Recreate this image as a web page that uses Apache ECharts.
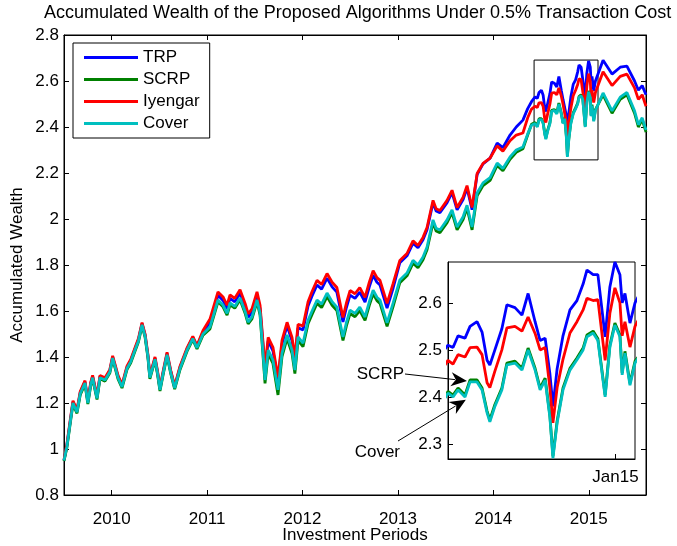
<!DOCTYPE html>
<html>
<head>
<meta charset="utf-8">
<script src="https://cdn.jsdelivr.net/npm/echarts@6/dist/echarts.min.js"></script>
<style>
html, body { margin: 0; padding: 0; background: #fff; }
#chart { width: 677px; height: 546px; }
</style>
</head>
<body>
<div id="chart"></div>
<script>
// decimal years
const periods = [
  2009.50, 2009.53, 2009.56, 2009.594, 2009.636, 2009.67, 2009.72, 2009.75, 2009.78, 2009.80,
  2009.846, 2009.877, 2009.93, 2009.98, 2010.01, 2010.04, 2010.066, 2010.108, 2010.16, 2010.20,
  2010.244, 2010.28, 2010.318, 2010.35, 2010.38, 2010.40, 2010.454, 2010.48, 2010.506, 2010.54,
  2010.58, 2010.62, 2010.66, 2010.716, 2010.79, 2010.85, 2010.894, 2010.957,
  2011.03, 2011.08, 2011.114, 2011.167, 2011.209, 2011.24, 2011.29, 2011.345, 2011.40, 2011.43, 2011.47, 2011.523, 2011.555,
  2011.607, 2011.64, 2011.69, 2011.743, 2011.785, 2011.838, 2011.89, 2011.92, 2011.953,
  2012.005, 2012.058, 2012.10, 2012.152, 2012.20, 2012.257, 2012.31, 2012.36, 2012.424, 2012.46,
  2012.498, 2012.55, 2012.60, 2012.655, 2012.70, 2012.74, 2012.78, 2012.812, 2012.886, 2012.95,
  2013.02, 2013.095, 2013.158, 2013.21, 2013.263, 2013.305, 2013.368, 2013.40, 2013.44, 2013.515,
  2013.567, 2013.62, 2013.683, 2013.724, 2013.777, 2013.83, 2013.892, 2013.966,
  2014.04, 2014.10, 2014.175, 2014.24, 2014.31, 2014.36,
  2014.400, 2014.418, 2014.436, 2014.461, 2014.479, 2014.504, 2014.522, 2014.540, 2014.550, 2014.568,
  2014.593, 2014.611, 2014.640, 2014.665, 2014.687, 2014.712, 2014.730, 2014.748, 2014.765, 2014.776,
  2014.791, 2014.812, 2014.837, 2014.862, 2014.884, 2014.898, 2014.920, 2014.937, 2014.963, 2014.980,
  2014.998, 2015.016, 2015.024, 2015.034, 2015.052, 2015.070,
  2015.15, 2015.244, 2015.33, 2015.40, 2015.48, 2015.52, 2015.56, 2015.60
];

const trp = [
  0.951, 1.015, 1.105, 1.205, 1.165, 1.245, 1.292, 1.205, 1.285, 1.315,
  1.225, 1.315, 1.305, 1.340, 1.400, 1.355, 1.315, 1.275, 1.355, 1.385,
  1.435, 1.475, 1.545, 1.495, 1.405, 1.315, 1.395, 1.335, 1.262, 1.335,
  1.415, 1.335, 1.270, 1.355, 1.435, 1.485, 1.445, 1.508,
  1.550, 1.620, 1.668, 1.646, 1.610, 1.655, 1.640, 1.677, 1.616, 1.572, 1.594, 1.668, 1.610,
  1.340, 1.470, 1.427, 1.297, 1.457, 1.536, 1.470, 1.383, 1.527,
  1.518, 1.622, 1.665, 1.713, 1.695, 1.743, 1.705, 1.682, 1.552, 1.615,
  1.669, 1.655, 1.682, 1.639, 1.705, 1.755, 1.725, 1.713, 1.613, 1.700,
  1.810, 1.840, 1.895, 1.875, 1.910, 1.953, 2.071, 2.035, 2.027, 2.071,
  2.115, 2.040, 2.085, 2.135, 2.040, 2.193, 2.240, 2.265,
  2.330, 2.310, 2.365, 2.400, 2.430, 2.480,
  2.510, 2.505, 2.530, 2.525, 2.550, 2.560, 2.538, 2.478, 2.468, 2.500,
  2.545, 2.596, 2.590, 2.574, 2.620, 2.560, 2.520, 2.525, 2.450, 2.380,
  2.460, 2.530, 2.585, 2.605, 2.640, 2.670, 2.660, 2.660, 2.528, 2.634,
  2.687, 2.660, 2.600, 2.620, 2.557, 2.600,
  2.690, 2.630, 2.660, 2.665, 2.600, 2.560, 2.580, 2.540
];

const scrp = [
  0.948, 1.005, 1.095, 1.195, 1.155, 1.235, 1.282, 1.195, 1.275, 1.305,
  1.215, 1.305, 1.295, 1.330, 1.390, 1.345, 1.305, 1.265, 1.345, 1.375,
  1.425, 1.465, 1.535, 1.485, 1.395, 1.305, 1.385, 1.325, 1.252, 1.325,
  1.405, 1.325, 1.260, 1.345, 1.425, 1.475, 1.435, 1.495,
  1.522, 1.592, 1.640, 1.618, 1.582, 1.627, 1.612, 1.649, 1.588, 1.544, 1.566, 1.640, 1.582,
  1.285, 1.415, 1.372, 1.235, 1.402, 1.481, 1.415, 1.328, 1.472,
  1.445, 1.545, 1.585, 1.633, 1.615, 1.663, 1.625, 1.602, 1.472, 1.535,
  1.589, 1.575, 1.602, 1.559, 1.625, 1.675, 1.645, 1.633, 1.533, 1.620,
  1.723, 1.753, 1.808, 1.788, 1.823, 1.866, 1.984, 1.948, 1.940, 1.984,
  2.028, 1.953, 1.998, 2.048, 1.953, 2.101, 2.145, 2.168,
  2.233, 2.210, 2.260, 2.290, 2.305, 2.365,
  2.412, 2.404, 2.419, 2.404, 2.436, 2.436, 2.419, 2.370, 2.351, 2.384,
  2.419, 2.472, 2.476, 2.461, 2.504, 2.461, 2.419, 2.440, 2.361, 2.274,
  2.349, 2.419, 2.461, 2.483, 2.504, 2.532, 2.540, 2.524, 2.404, 2.510,
  2.557, 2.532, 2.451, 2.497, 2.429, 2.476,
  2.540, 2.460, 2.520, 2.540, 2.460, 2.400, 2.432, 2.378
];

const iyengar = [
  0.953, 1.020, 1.110, 1.210, 1.170, 1.250, 1.297, 1.210, 1.290, 1.320,
  1.230, 1.320, 1.310, 1.345, 1.405, 1.360, 1.320, 1.280, 1.360, 1.390,
  1.440, 1.480, 1.550, 1.500, 1.410, 1.320, 1.400, 1.340, 1.267, 1.340,
  1.420, 1.340, 1.275, 1.360, 1.440, 1.490, 1.450, 1.515,
  1.565, 1.635, 1.683, 1.661, 1.625, 1.670, 1.655, 1.692, 1.631, 1.587, 1.609, 1.683, 1.625,
  1.355, 1.485, 1.442, 1.312, 1.472, 1.551, 1.485, 1.398, 1.542,
  1.535, 1.640, 1.685, 1.733, 1.715, 1.763, 1.725, 1.702, 1.572, 1.635,
  1.689, 1.675, 1.702, 1.659, 1.725, 1.775, 1.745, 1.733, 1.633, 1.720,
  1.820, 1.850, 1.905, 1.885, 1.920, 1.963, 2.081, 2.045, 2.037, 2.081,
  2.125, 2.050, 2.095, 2.145, 2.050, 2.198, 2.242, 2.265,
  2.318, 2.295, 2.340, 2.365, 2.374, 2.440,
  2.478, 2.470, 2.490, 2.485, 2.505, 2.506, 2.490, 2.430, 2.420, 2.455,
  2.500, 2.547, 2.550, 2.540, 2.570, 2.535, 2.500, 2.505, 2.420, 2.345,
  2.420, 2.480, 2.536, 2.560, 2.585, 2.610, 2.605, 2.607, 2.478, 2.578,
  2.632, 2.600, 2.530, 2.560, 2.506, 2.550,
  2.640, 2.580, 2.620, 2.630, 2.570, 2.520, 2.540, 2.490
];

const cover = [
  0.950, 1.010, 1.100, 1.200, 1.160, 1.240, 1.287, 1.200, 1.280, 1.310,
  1.220, 1.310, 1.300, 1.335, 1.395, 1.350, 1.310, 1.270, 1.350, 1.380,
  1.430, 1.470, 1.540, 1.490, 1.400, 1.310, 1.390, 1.330, 1.257, 1.330,
  1.410, 1.330, 1.265, 1.350, 1.430, 1.480, 1.440, 1.500,
  1.530, 1.600, 1.648, 1.626, 1.590, 1.635, 1.620, 1.657, 1.596, 1.552, 1.574, 1.648, 1.590,
  1.300, 1.430, 1.387, 1.257, 1.417, 1.496, 1.430, 1.343, 1.487,
  1.460, 1.560, 1.600, 1.648, 1.630, 1.678, 1.640, 1.617, 1.487, 1.550,
  1.604, 1.590, 1.617, 1.574, 1.640, 1.690, 1.660, 1.648, 1.548, 1.635,
  1.735, 1.765, 1.820, 1.800, 1.835, 1.878, 1.996, 1.960, 1.952, 1.996,
  2.040, 1.965, 2.010, 2.060, 1.965, 2.113, 2.157, 2.180,
  2.243, 2.220, 2.270, 2.300, 2.313, 2.370,
  2.408, 2.400, 2.415, 2.400, 2.432, 2.432, 2.415, 2.366, 2.347, 2.380,
  2.415, 2.468, 2.472, 2.457, 2.500, 2.457, 2.415, 2.436, 2.357, 2.270,
  2.345, 2.415, 2.457, 2.479, 2.500, 2.528, 2.536, 2.520, 2.400, 2.506,
  2.553, 2.528, 2.447, 2.493, 2.425, 2.472,
  2.548, 2.470, 2.530, 2.550, 2.470, 2.410, 2.440, 2.387
];

const yearTicks = [2010, 2011, 2012, 2013, 2014, 2015];
const insetTicksX = [2015];
const insetTicksY = [2.3, 2.4, 2.5, 2.6];
const insetRangeX = [2014.4, 2015.07];
const insetRangeY = [2.268, 2.687];
// box drawn in the main plot around the zoomed region
const zoomBox = [[2014.427, 2.257], [2015.097, 2.691]];
// where the inset arrows point (data coords of the inset)
const arrowTips = { SCRP: [2014.468, 2.434], Cover: [2014.464, 2.394] };

const font = "'Liberation Sans', Arial, Helvetica, sans-serif";
const colors = { TRP: '#0000ff', SCRP: '#008000', Iyengar: '#ff0000', Cover: '#00bfbf' };

function line(name, values, axis, z) {
    return {
        name: name,
        type: 'line',
        xAxisIndex: axis,
        yAxisIndex: axis,
        data: periods.map((t, i) => [t, values[i]]),
        showSymbol: false,
        symbol: 'none',
        lineStyle: { color: colors[name], width: 2.8 },
        itemStyle: { color: colors[name] },
        z: z
    };
}

const coverMain = line('Cover', cover, 0, 2);
coverMain.markArea = {
    silent: true,
    itemStyle: { color: 'rgba(0,0,0,0)', borderColor: '#000', borderWidth: 1 },
    data: [[{ coord: zoomBox[0] }, { coord: zoomBox[1] }]]
};

const chart = echarts.init(document.getElementById('chart'), null, { renderer: 'canvas' });
chart.setOption({
    animation: false,
    backgroundColor: '#fff',
    textStyle: { fontFamily: font, color: '#000' },
    title: {
        text: 'Accumulated Wealth of the Proposed Algorithms Under 0.5% Transaction Cost',
        left: 44,
        top: 4,
        padding: 0,
        textStyle: { fontFamily: font, fontSize: 18, fontWeight: 'normal', color: '#000' }
    },
    legend: {
        data: ['TRP', 'SCRP', 'Iyengar', 'Cover'],
        orient: 'vertical',
        left: 73,
        top: 43,
        padding: [6, 10, 6, 11],
        itemGap: 5,
        itemWidth: 54,
        itemHeight: 3,
        icon: 'rect',
        backgroundColor: '#fff',
        borderColor: '#000',
        borderWidth: 1,
        borderRadius: 0,
        textStyle: { fontFamily: font, fontSize: 17, color: '#000' },
        z: 8
    },
    grid: [
        { left: 64, top: 35, width: 582, height: 460, outerBoundsMode: 'none', containLabel: false,
          show: true, borderColor: '#000', borderWidth: 1, backgroundColor: 'rgba(0,0,0,0)' },
        { left: 448, top: 262, width: 187, height: 197, outerBoundsMode: 'none', containLabel: false,
          show: true, borderColor: '#000', borderWidth: 1, backgroundColor: '#fff', z: 5 }
    ],
    xAxis: [
        {
            gridIndex: 0, type: 'value', min: 2009.5, max: 2015.6, position: 'bottom',
            name: 'Investment Periods', nameLocation: 'middle', nameGap: 32, nameMoveOverlap: false,
            nameTextStyle: { fontFamily: font, fontSize: 17, color: '#000' },
            axisLine: { lineStyle: { color: '#000', width: 1 } },
            axisTick: { inside: true, length: 5, customValues: yearTicks, lineStyle: { color: '#000' } },
            axisLabel: { customValues: yearTicks, margin: 16, fontSize: 17, color: '#000', fontFamily: font,
                formatter: v => String(Math.round(v)) },
            splitLine: { show: false }
        },
        {
            gridIndex: 0, type: 'value', min: 2009.5, max: 2015.6, position: 'top',
            axisLine: { lineStyle: { color: '#000' } },
            axisTick: { inside: true, length: 5, customValues: yearTicks, lineStyle: { color: '#000' } },
            axisLabel: { show: false },
            splitLine: { show: false }
        },
        {
            gridIndex: 1, type: 'value', min: insetRangeX[0], max: insetRangeX[1], position: 'bottom',
            axisLine: { lineStyle: { color: '#000' } },
            axisTick: { inside: true, length: 5, customValues: insetTicksX, lineStyle: { color: '#000' } },
            axisLabel: { customValues: insetTicksX, margin: 10, fontSize: 17, color: '#000', fontFamily: font,
                formatter: v => 'Jan' + String(Math.round(v)).slice(2) },
            splitLine: { show: false },
            z: 6
        }
    ],
    yAxis: [
        {
            gridIndex: 0, type: 'value', min: 0.8, max: 2.8, interval: 0.2, position: 'left',
            name: 'Accumulated Wealth', nameLocation: 'middle', nameGap: 38, nameMoveOverlap: false,
            nameTextStyle: { fontFamily: font, fontSize: 17, color: '#000' },
            axisLine: { show: true, lineStyle: { color: '#000' } },
            axisTick: { show: true, inside: true, length: 5, lineStyle: { color: '#000' } },
            axisLabel: { margin: 5, fontSize: 17, color: '#000', fontFamily: font },
            splitLine: { show: false }
        },
        {
            gridIndex: 0, type: 'value', min: 0.8, max: 2.8, interval: 0.2, position: 'right',
            axisLine: { show: true, lineStyle: { color: '#000' } },
            axisTick: { show: true, inside: true, length: 5, lineStyle: { color: '#000' } },
            axisLabel: { show: false },
            splitLine: { show: false }
        },
        {
            gridIndex: 1, type: 'value', min: insetRangeY[0], max: insetRangeY[1], position: 'left',
            axisLine: { show: true, lineStyle: { color: '#000' } },
            axisTick: { show: true, inside: true, length: 5, customValues: insetTicksY, lineStyle: { color: '#000' } },
            axisLabel: { customValues: insetTicksY, margin: 6, fontSize: 17, color: '#000', fontFamily: font,
                formatter: v => v.toFixed(1) },
            splitLine: { show: false },
            z: 6
        }
    ],
    series: [
        line('TRP', trp, 0, 2),
        line('SCRP', scrp, 0, 2),
        line('Iyengar', iyengar, 0, 2),
        coverMain,
        line('TRP', trp, 2, 7),
        line('SCRP', scrp, 2, 7),
        line('Iyengar', iyengar, 2, 7),
        line('Cover', cover, 2, 7)
    ]
});

// annotation arrows pointing into the inset
function arrow(from, tip) {
    const dx = tip[0] - from[0], dy = tip[1] - from[1];
    const len = Math.sqrt(dx * dx + dy * dy);
    const ux = dx / len, uy = dy / len, nx = -uy, ny = ux;
    const L = 16, W = 7;
    const bx = tip[0] - ux * L, by = tip[1] - uy * L;
    return [
        { type: 'line', shape: { x1: from[0], y1: from[1], x2: bx + ux * 4, y2: by + uy * 4 },
          style: { stroke: '#000', lineWidth: 1 }, z: 20 },
        { type: 'polygon', shape: { points: [
            tip, [bx + nx * W, by + ny * W], [tip[0] - ux * L * 0.7, tip[1] - uy * L * 0.7], [bx - nx * W, by - ny * W]
          ] }, style: { fill: '#000' }, z: 20 }
    ];
}
const tipS = chart.convertToPixel({ gridIndex: 1 }, arrowTips.SCRP);
const tipC = chart.convertToPixel({ gridIndex: 1 }, arrowTips.Cover);
chart.setOption({
    graphic: [
        { type: 'text', x: 404, y: 374, z: 20,
          style: { text: 'SCRP', font: '17px ' + font, fill: '#000', textAlign: 'right', textVerticalAlign: 'middle' } },
        { type: 'text', x: 400, y: 452, z: 20,
          style: { text: 'Cover', font: '17px ' + font, fill: '#000', textAlign: 'right', textVerticalAlign: 'middle' } }
    ].concat(arrow([405, 374], tipS), arrow([398, 441], tipC))
});
</script>
</body>
</html>
